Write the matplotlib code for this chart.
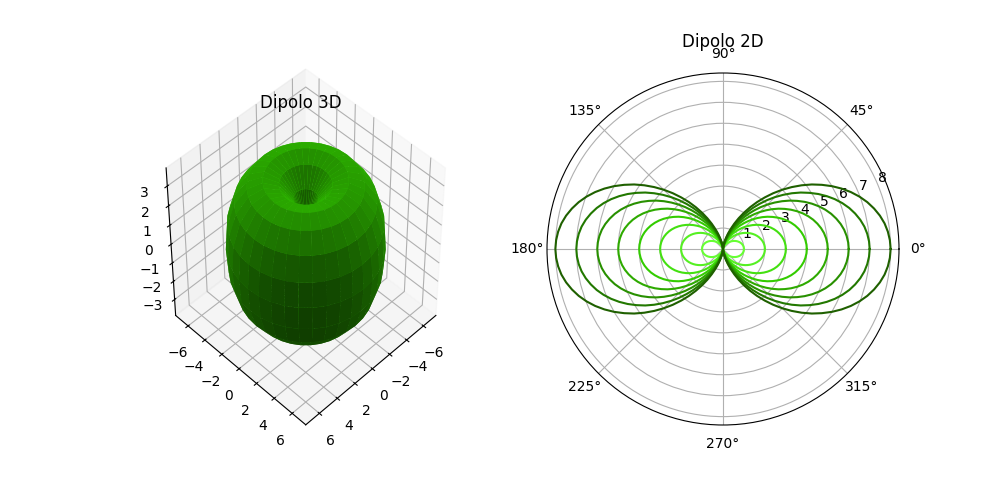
"""
Dipolo: 3D surface and 2D polar radiation pattern.
"""

import numpy as np
import matplotlib
matplotlib.use("Agg")
import matplotlib.pyplot as plt

W, H = 996, 493

# lobe shape, one value every 3 degrees from 0 to 90
lobe_quarter = [
    1.0, 0.997, 0.989, 0.976, 0.957, 0.933, 0.905, 0.872, 0.835, 0.794, 0.75,
    0.703, 0.655, 0.604, 0.552, 0.5, 0.448, 0.396, 0.346, 0.297, 0.25,
    0.206, 0.165, 0.128, 0.096, 0.067, 0.043, 0.025, 0.011, 0.003, 0.0,
]
amplitudes = [1, 2, 3, 4, 5, 6, 7, 8]
curve_colors = ["#66ff33", "#55f022", "#44e011", "#33cc00",
                "#2eaa00", "#289000", "#227800", "#1f6000"]

# surface radius from the -z pole to the +z pole, one row every 12 degrees
surface_r = [0.0, 1.31, 2.56, 3.7, 4.67, 5.45, 5.99, 6.26, 6.3,
             6.26, 5.99, 5.45, 4.67, 3.7, 2.56, 1.31, 0.0]
surface_color = "#33cc00"

fig = plt.figure(figsize=(W / 100, H / 100), dpi=100)

# 3D surface, stretched to fill the whole axes rectangle
ax3 = fig.add_axes([125 / W, (H - 442) / H, 352 / W, 385 / H], projection="3d")
ax3.apply_aspect = lambda position=None: None
ax3.set_box_aspect((1, 1, 1), zoom=0.91)
r3 = np.array(surface_r)
polar_angle = np.linspace(np.pi, 0, len(r3))
azimuth = np.linspace(0, 2 * np.pi, 37)
P, T = np.meshgrid(azimuth, polar_angle)
R = r3[:, None]
X = R * np.sin(T) * np.cos(P)
Y = R * np.sin(T) * np.sin(P)
Z = R * np.cos(T)
ax3.plot_surface(X, Y, Z, color=surface_color, rstride=1, cstride=1, linewidth=0)
ax3.set_xlim(-7.5, 7.5)
ax3.set_ylim(-7.5, 7.5)
ax3.set_zlim(-3.9, 3.9)
ax3.view_init(elev=45, azim=45)
ax3.set_title("Dipolo 3D", y=0.92)

# 2D polar pattern
ax2 = fig.add_axes([547 / W, (H - 425) / H, 352 / W, 352 / H], projection="polar")
q = np.array(lobe_quarter)
lobe = np.concatenate([q, q[::-1][1:], q[1:], q[::-1][1:]])
angles = np.deg2rad(np.arange(len(lobe)) * 3)
for amp, col in zip(amplitudes, curve_colors):
    ax2.plot(angles, amp * lobe, color=col, linewidth=1.5)
ax2.set_title("Dipolo 2D", y=1.05)

fig.savefig("out.png", dpi=100)
